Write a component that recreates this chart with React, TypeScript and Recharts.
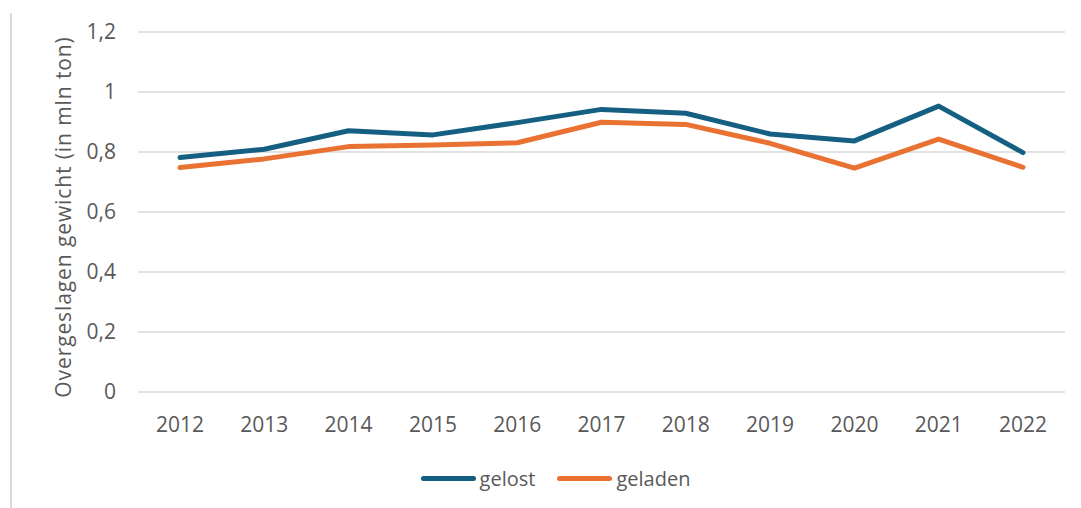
import React from 'react';
import { LineChart, Line, XAxis, YAxis, CartesianGrid, Legend } from 'recharts';

const years = ['2012', '2013', '2014', '2015', '2016', '2017', '2018', '2019', '2020', '2021', '2022'];
const gelost = [0.782, 0.809, 0.871, 0.857, 0.898, 0.942, 0.929, 0.86, 0.837, 0.953, 0.798];
const geladen = [0.748, 0.777, 0.818, 0.823, 0.831, 0.899, 0.892, 0.829, 0.746, 0.843, 0.749];
const yTicks = [0, 0.2, 0.4, 0.6, 0.8, 1, 1.2];
const seriesNames = ['gelost', 'geladen'];
const colors = ['#156082', '#E97132'];
const yLabel = 'Overgeslagen gewicht (in mln ton)';

const data = years.map((y, i) => ({ year: y, gelost: gelost[i], geladen: geladen[i] }));

const FONT = '"Open Sans", "Noto Sans", sans-serif';
const TEXT = '#595959';

const fmt = (v: number) => String(Number(v.toFixed(1))).replace('.', ',');

const LegendContent = () => (
  <div style={{ display: 'flex', justifyContent: 'center', alignItems: 'center', height: 30, transform: 'translateX(15px)', fontFamily: FONT, fontSize: 20, color: TEXT }}>
    {seriesNames.map((n, i) => (
      <div key={n} style={{ display: 'flex', alignItems: 'center', marginRight: i === 0 ? 22 : 0 }}>
        <div style={{ width: 55, height: 5, borderRadius: 3, background: colors[i], marginRight: 4 }} />
        <span>{n}</span>
      </div>
    ))}
  </div>
);

const YLabel = () => (
  <text x={63} y={217} transform="rotate(-90 63 217)" textAnchor="middle" dominantBaseline="central" fill={TEXT} fontFamily={FONT} fontSize={21} letterSpacing={0.9}>
    {yLabel}
  </text>
);

export default function App() {
  return (
    <div style={{ position: 'absolute', left: 0, top: 0, width: 1081, height: 508, background: '#fff', overflow: 'hidden' }}>
      <div style={{ position: 'absolute', left: 10, top: 13, width: 2, height: 495, background: '#d9d9d9' }} />
      <LineChart width={1081} height={508} data={data} margin={{ top: 32, right: 16, bottom: 15, left: 0 }}>
        <CartesianGrid vertical={false} stroke="#d9d9d9" strokeWidth={1.5} />
        <XAxis
          dataKey="year"
          axisLine={false}
          tickLine={false}
          tickSize={0}
          tickMargin={25}
          height={71}
          padding={{ left: 42, right: 42 }}
          tick={{ fill: TEXT, fontSize: 21, fontFamily: FONT }}
          interval={0}
        />
        <YAxis
          domain={[0, 1.2]}
          ticks={yTicks}
          width={138}
          axisLine={false}
          tickLine={false}
          tickSize={0}
          tickMargin={22}
          tickFormatter={fmt}
          tick={{ fill: TEXT, fontSize: 21, fontFamily: FONT }}
          label={{ content: () => <YLabel /> }}
        />
        <Legend verticalAlign="bottom" height={30} wrapperStyle={{ left: 0, width: 1081 }} content={() => <LegendContent />} />
        <Line dataKey="gelost" stroke={colors[0]} strokeWidth={5} dot={false} isAnimationActive={false} strokeLinejoin="round" strokeLinecap="round" />
        <Line dataKey="geladen" stroke={colors[1]} strokeWidth={5} dot={false} isAnimationActive={false} strokeLinejoin="round" strokeLinecap="round" />
      </LineChart>
    </div>
  );
}
